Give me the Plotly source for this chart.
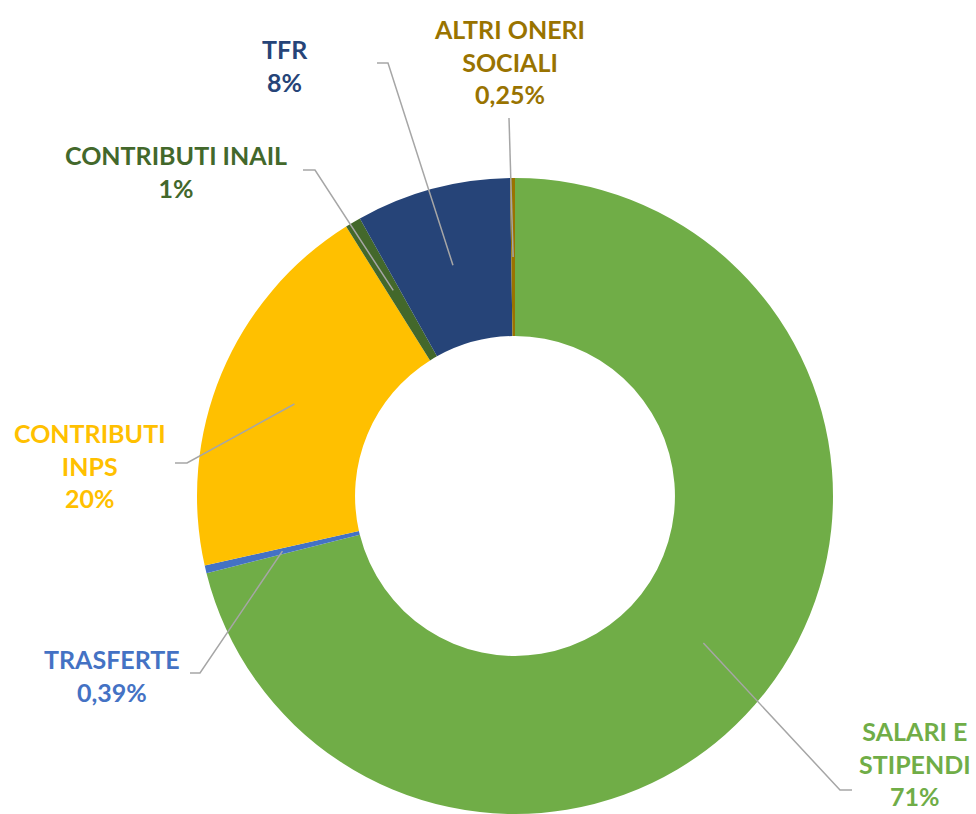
import math
import plotly.graph_objects as go

# ---- data ----
categories = ["SALARI E STIPENDI", "TRASFERTE", "CONTRIBUTI INPS",
              "CONTRIBUTI INAIL", "TFR", "ALTRI ONERI SOCIALI"]
values = [71.1, 0.39, 19.6, 0.8, 7.86, 0.25]
label_texts = ["SALARI E<br>STIPENDI<br>71%", "TRASFERTE<br>0,39%",
               "CONTRIBUTI<br>INPS<br>20%", "CONTRIBUTI INAIL<br>1%",
               "TFR<br>8%", "ALTRI ONERI<br>SOCIALI<br>0,25%"]
slice_colors = ["#70AD47", "#4472C4", "#FFC000", "#43682B", "#264478", "#997300"]

# ---- layout constants (pixels, figure 976x814) ----
W, H = 976, 814
CX, CY, R = 515, 496, 318
HOLE = 0.503
label_pos = [(915, 763), (112, 675), (90, 465), (176, 171), (285, 65), (509, 61)]
# elbow + end point of each leader line (near the label)
leader_ends = [[(840, 790), (852, 790)],
               [(200, 673), (190, 673)],
               [(187, 463), (175, 463)],
               [(315, 170), (303, 170)],
               [(388, 63), (377, 63)],
               [(509, 118)]]

fig = go.Figure()
fig.add_trace(go.Pie(
    labels=categories, values=values, sort=False, direction="clockwise",
    rotation=0, hole=HOLE, textinfo="none", hoverinfo="label+percent",
    marker=dict(colors=slice_colors, line=dict(width=0)),
    domain=dict(x=[(CX - R) / W, (CX + R) / W], y=[(H - CY - R) / H, (H - CY + R) / H]),
    showlegend=False,
))

# leader lines from slice mid-angles (drawn as shapes above the pie)
total = sum(values)
cum = 0.0
r_anchor = R * (1 + HOLE) / 2
for v, ends in zip(values, leader_ends):
    mid = (cum + v / 2) / total * 2 * math.pi
    cum += v
    ax = CX + r_anchor * math.sin(mid)
    ay = CY - r_anchor * math.cos(mid)
    pts = [(ax, ay)] + ends
    path = "M " + " L ".join(f"{px:.2f},{py:.2f}" for px, py in pts)
    fig.add_shape(type="path", path=path, xref="x", yref="y", layer="above",
                  line=dict(color="#A6A6A6", width=1.5))

for (lx, ly), txt, col in zip(label_pos, label_texts, slice_colors):
    fig.add_annotation(x=lx, y=ly, xref="x", yref="y", text=txt, showarrow=False,
                       xanchor="center", yanchor="middle", align="center",
                       font=dict(family="Lato", size=25, color=col, weight="bold"))

fig.update_layout(
    width=W, height=H, margin=dict(l=0, r=0, t=0, b=0),
    paper_bgcolor="white", plot_bgcolor="rgba(0,0,0,0)",
    xaxis=dict(range=[0, W], visible=False, fixedrange=True),
    yaxis=dict(range=[H, 0], visible=False, fixedrange=True),
)

fig.write_html("out.html", config={"displayModeBar": False},
               post_script="document.body.style.margin='0px';document.body.style.overflow='hidden';")
